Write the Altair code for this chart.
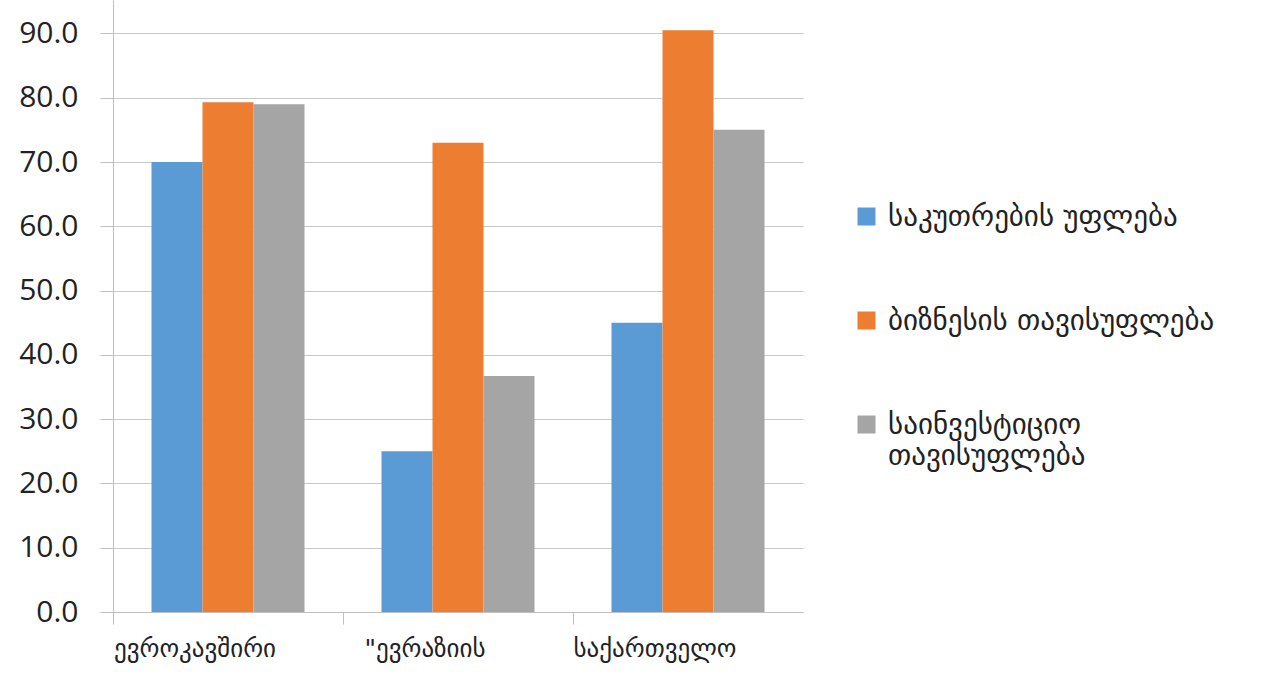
import altair as alt
import pandas as pd

categories = ["ევროკავშირი", "\"ევრაზიის", "საქართველო"]
series = ["საკუთრების უფლება", "ბიზნესის თავისუფლება", "საინვესტიციო თავისუფლება"]
property_rights = [70.0, 25.0, 45.0]
business_freedom = [79.3, 73.0, 90.5]
investment_freedom = [79.0, 36.7, 75.0]
colors = ["#5B9BD5", "#ED7D31", "#A5A5A5"]
y_ticks = [0, 10, 20, 30, 40, 50, 60, 70, 80, 90]

rows = []
for s, vals in zip(series, [property_rights, business_freedom, investment_freedom]):
    for c, v in zip(categories, vals):
        rows.append({"category": c, "series": s, "value": v})
df = pd.DataFrame(rows)

label_expr = ("datum.label == 'საინვესტიციო თავისუფლება' ? "
              "['საინვესტიციო', 'თავისუფლება'] : datum.label")

chart = alt.Chart(df).mark_bar().encode(
    x=alt.X("category:N", sort=categories, title=None,
            scale=alt.Scale(paddingInner=0, paddingOuter=0),
            axis=alt.Axis(labelAngle=0, bandPosition=0, tickSize=12,
                          tickColor="#BFBFBF", domainColor="#BFBFBF",
                          labelFont="DejaVu Sans", labelFontSize=25,
                          labelColor="#222222", labelPadding=12, labelOffset=-33,
                          labelBound=False, labelOverlap=False, grid=False)),
    xOffset=alt.XOffset("series:N", sort=series,
                        scale=alt.Scale(paddingInner=0, paddingOuter=0.755)),
    y=alt.Y("value:Q", title=None,
            scale=alt.Scale(domain=[0, 95.2], nice=False),
            axis=alt.Axis(values=y_ticks, format=".1f", tickSize=13,
                          tickColor="#BFBFBF", domainColor="#BFBFBF",
                          gridColor="#C8C8C8", labelFont="Open Sans",
                          labelFontSize=30, labelColor="#222222",
                          labelPadding=22)),
    color=alt.Color("series:N", sort=series,
                    scale=alt.Scale(domain=series, range=colors),
                    legend=alt.Legend(title=None, orient="none",
                                      legendX=739, legendY=202,
                                      symbolType="square", symbolSize=324,
                                      symbolStrokeWidth=0, labelFont="DejaVu Sans",
                                      labelFontSize=29, labelColor="#222222",
                                      labelOffset=7, labelLimit=450,
                                      rowPadding=74, padding=0,
                                      labelExpr=label_expr)),
).properties(
    width=690, height=612,
    background="white",
    autosize=alt.AutoSizeParams(type="none"),
    padding={"left": 113, "top": 0, "right": 459, "bottom": 65},
).configure_view(stroke=None, strokeOpacity=0, strokeWidth=0)

chart.save("out.html", embed_options={"renderer": "svg", "actions": False})
